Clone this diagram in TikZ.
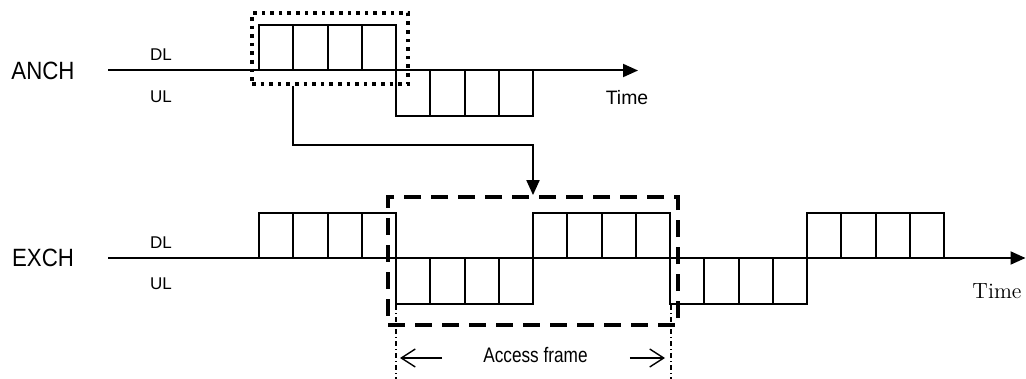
\documentclass[tikz,border=0pt]{standalone}
\usepackage{fontspec}
\setsansfont{Liberation Sans}
\usetikzlibrary{positioning, fit, calc, arrows.meta}
\tikzset{
  slot/.style={draw, line width=1pt},
  asse/.style={line width=1pt, -{Triangle[length=7.5pt,width=6.5pt]}},
  lbl/.style={font=\sffamily\fontsize{8.5}{10}\selectfont, inner sep=0pt},
  canale/.style={font=\sffamily\fontsize{12.5}{14}\selectfont, inner sep=0pt, xscale=0.89},
  dotbox/.style={draw, line width=1.9pt, dash pattern=on 1.8pt off 2.5pt, inner sep=0pt},
  dashbox/.style={draw, line width=1.9pt, dash pattern=on 8.5pt off 5pt, inner sep=0pt},
  link/.style={line width=1pt, -{Triangle[length=7.5pt,width=6.5pt]}},
  guida/.style={line width=0.6pt, dash pattern=on 2.5pt off 1.5pt on 0.5pt off 1.5pt},
  freccia/.style={line width=0.7pt, -{Straight Barb[length=7pt,width=9pt]}},
}
% quattro slot da (x,y), altezza h
\newcommand{\slotrow}[3]{%
  \foreach \k in {0,...,3}
    \draw[slot] ({#1+\k*34.25},#2) rectangle ++(34.25,#3);}

\begin{document}
\begin{tikzpicture}[x=0.5pt,y=-0.5pt]
        \useasboundingbox (0,0) rectangle (1026,379);
        %disegno asse ANCH
        \coordinate (ancA) at (108,70.5);
        \coordinate (ancB) at (638,70.5);
        \draw[asse] (ancA) -- (ancB);
        \node[canale] (anch) at (43,71) {ANCH};
        \node[lbl] (anchdl) at (161,55) {DL};
        \node[lbl] (anchul) at (161,97) {UL};
        \node[lbl, font=\sffamily\fontsize{9.7}{11}\selectfont] (anchtime) at (627,98) {Time};
        %disegno slot ANCH
        \slotrow{259}{70.5}{-45.5}
        \slotrow{396}{70.5}{45.5}
        %disegno riquadro puntinato
        \node[dotbox, fit={(252,13) (408,84)}] (sel) {};
        %disegno asse EXCH
        \coordinate (excA) at (108,258);
        \coordinate (excB) at (1025.5,258);
        \draw[asse] (excA) -- (excB);
        \node[canale] (exch) at (43,258) {EXCH};
        \node[lbl] (exchdl) at (161,243) {DL};
        \node[lbl] (exchul) at (161,284) {UL};
        \node[font=\fontsize{11}{13}\selectfont, inner sep=0pt] (exchtime) at (997,291) {Time};
        %disegno slot EXCH
        \foreach \g in {0,2,4} {\slotrow{259+\g*137}{258}{-45.5}}
        \foreach \g in {1,3} {\slotrow{259+\g*137}{258}{45.5}}
        %disegno riquadro tratteggiato
        \node[dashbox, fit={(388,197) (678,325)}] (frm) {};
        %disegno collegamento
        \coordinate (tap) at (293,145);
        \coordinate (turn) at (533,145);
        \draw[link] (sel.south -| tap) -- (tap) -- (turn) -- (frm.north -| turn);
        %disegno access frame
        \coordinate (gL) at (396,305);
        \coordinate (gR) at (671,305);
        \draw[guida] (gL) -- ++(0,74);
        \draw[guida] (gR) -- ++(0,74);
        \node[lbl, font=\sffamily\fontsize{10.5}{12}\selectfont, xscale=0.82] (acc) at (535.5,355) {Access frame};
        \draw[freccia] ([xshift=-20.5pt,yshift=-1.5pt]acc.west) -- ([xshift=2pt,yshift=-1.5pt]acc.west -| gL);
        \draw[freccia] ([xshift=21pt,yshift=-1.5pt]acc.east) -- ([xshift=-3pt,yshift=-1.5pt]acc.east -| gR);
    \end{tikzpicture}
\end{document}
